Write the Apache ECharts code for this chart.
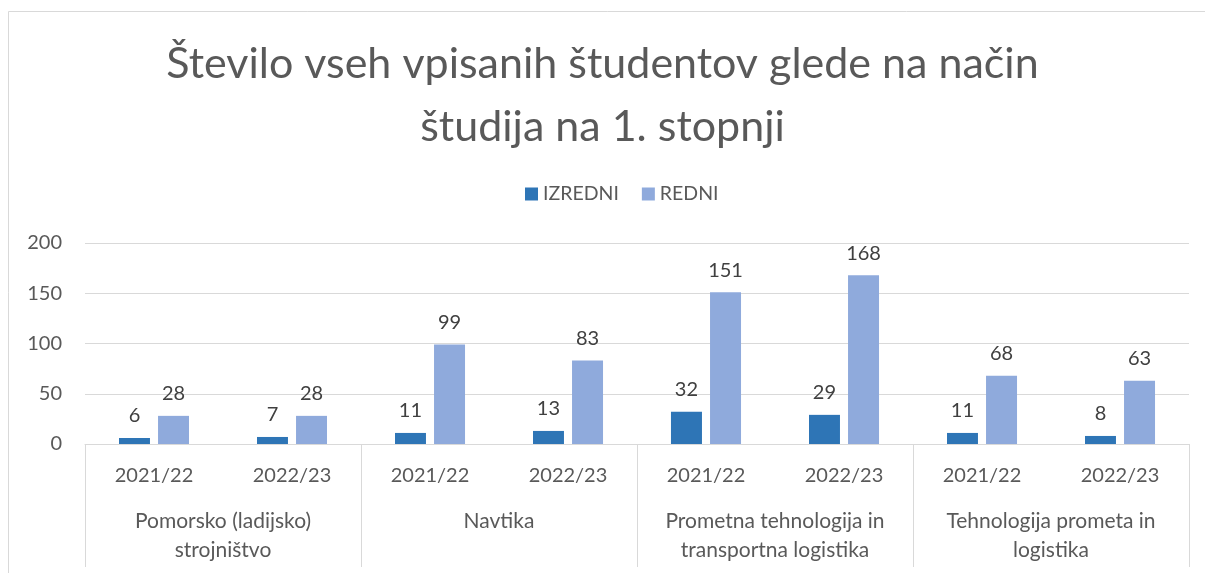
<!DOCTYPE html>
<html>
<head>
<meta charset="utf-8">
<script src="https://cdn.jsdelivr.net/npm/echarts@6/dist/echarts.min.js"></script>
<style>
html, body { margin: 0; padding: 0; background: #fff; }
#main { width: 1205px; height: 573px; }
</style>
</head>
<body>
<div id="main"></div>
<script>
var years = ['2021/22', '2022/23', '2021/22', '2022/23', '2021/22', '2022/23', '2021/22', '2022/23'];
var programs = ['Pomorsko (ladijsko)\nstrojništvo', 'Navtika', 'Prometna tehnologija in\ntransportna logistika', 'Tehnologija prometa in\nlogistika'];
var izredni = [6, 7, 11, 13, 32, 29, 11, 8];
var redni = [28, 28, 99, 83, 151, 168, 68, 63];
var yTicks = [0, 50, 100, 150, 200];

var FONT = 'Lato';
var myChart = echarts.init(document.getElementById('main'));

var option = {
    backgroundColor: '#fff',
    animation: false,
    textStyle: { fontFamily: FONT },
    graphic: [{
        type: 'rect',
        shape: { x: 8.5, y: 11.5, width: 1300, height: 700 },
        style: { fill: 'none', stroke: '#d9d9d9', lineWidth: 1 },
        silent: true
    }],
    title: {
        text: 'Število vseh vpisanih študentov glede na način\nštudija na 1. stopnji',
        left: 'center',
        top: 28,
        textStyle: { fontFamily: FONT, fontSize: 43, fontWeight: 'normal', color: '#595959', lineHeight: 63 }
    },
    legend: {
        data: ['IZREDNI', 'REDNI'],
        top: 179,
        left: 520,
        itemWidth: 13,
        itemHeight: 13,
        itemGap: 23,
        icon: 'rect',
        textStyle: { fontFamily: FONT, fontSize: 19.5, color: '#595959' }
    },
    grid: { left: 85, right: 16, top: 243, bottom: 129 },
    xAxis: [{
        type: 'category',
        data: years,
        position: 'bottom',
        axisLine: { lineStyle: { color: '#d9d9d9' } },
        axisTick: { show: false },
        axisLabel: { fontFamily: FONT, fontSize: 20, color: '#595959', margin: 22, interval: 0 }
    }, {
        type: 'category',
        data: programs,
        position: 'bottom',
        axisLine: { show: false },
        axisTick: { show: true, length: 123, lineStyle: { color: '#d9d9d9' } },
        axisLabel: { fontFamily: FONT, fontSize: 21, color: '#595959', margin: 63, lineHeight: 29, interval: 0, align: 'center' }
    }],
    yAxis: {
        type: 'value',
        min: yTicks[0],
        max: yTicks[yTicks.length - 1],
        interval: 50,
        axisLine: { show: false },
        axisTick: { show: false },
        splitLine: { lineStyle: { color: '#d9d9d9' } },
        axisLabel: { fontFamily: FONT, fontSize: 20, color: '#595959', margin: 23 }
    },
    series: [{
        name: 'IZREDNI',
        type: 'bar',
        data: izredni,
        barWidth: 31,
        barGap: '26%',
        itemStyle: { color: '#2e75b6' },
        label: { show: true, position: 'top', distance: 12, fontFamily: FONT, fontSize: 20, color: '#404040' }
    }, {
        name: 'REDNI',
        type: 'bar',
        data: redni,
        barWidth: 31,
        itemStyle: { color: '#8faadc' },
        label: { show: true, position: 'top', distance: 12, fontFamily: FONT, fontSize: 20, color: '#404040' }
    }]
};
myChart.setOption(option);
</script>
</body>
</html>
